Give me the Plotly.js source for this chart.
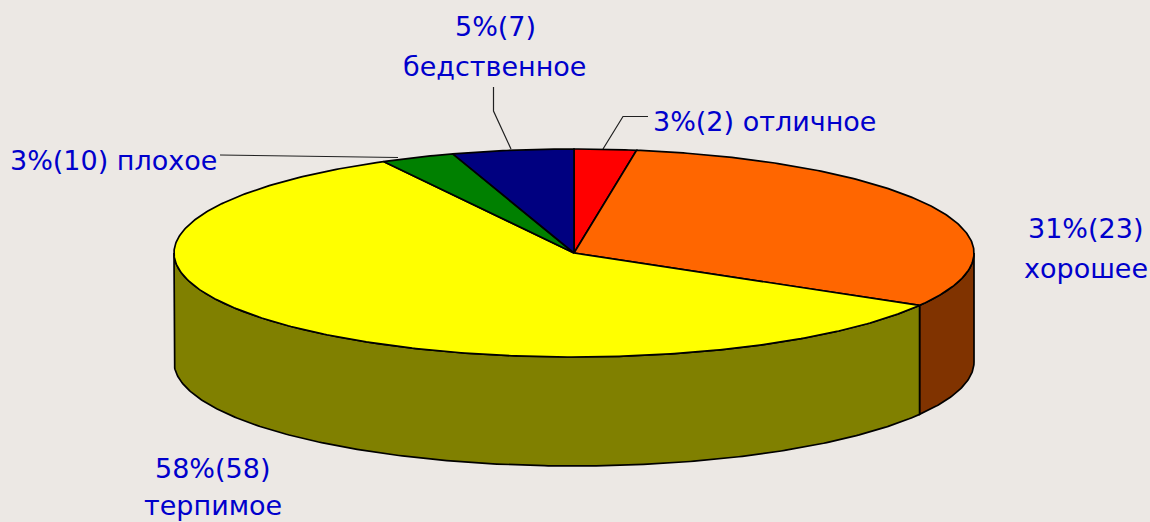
<!DOCTYPE html>
<html><head><meta charset="utf-8">
<script src="https://cdn.plot.ly/plotly-3.0.1.min.js"></script>
<style>html,body{margin:0;padding:0;background:#ece8e4;overflow:hidden}</style>
</head><body><div id="chart" style="width:1150px;height:522px"></div>
<script>
// Data (clockwise from 12 o'clock)
const categories = ['отличное','хорошее','терпимое','плохое','бедственное'];
const shares = [2.5, 30.9, 58.7, 3.0, 4.9];
const percentLabels = ['3%','31%','58%','3%','5%'];
const counts = [2, 23, 58, 10, 7];
const topColors = ['#ff0000','#ff6600','#ffff00','#008000','#000080'];
const sideColors = ['#800000','#803300','#808000','#004000','#000040'];

// Tilted-disc projection, in pixel-sized axis units
const CX = 574, CY = 253, RX = 400, RY = 104, DEPTH = 109;
const px = t => CX + RX * Math.sin(t);
const py = t => CY - RY * Math.cos(t);
const total = shares.reduce((a, b) => a + b, 0);
const arcs = [];
let acc = 0;
shares.forEach(v => { const a0 = acc; acc += v; arcs.push([a0 / total * 2 * Math.PI, acc / total * 2 * Math.PI]); });

function arcPts(a0, a1) {
  const n = Math.max(2, Math.ceil((a1 - a0) / 0.01)), pts = [];
  for (let i = 0; i <= n; i++) pts.push(a0 + (a1 - a0) * i / n);
  return pts;
}
const outline = {color: '#000000', width: 1.7};
const traces = [];
// Leader lines
const leaders = [
  {x: [603, 623, 648], y: [149, 116.5, 116.5]},
  {x: [493.5, 493.5, 511], y: [87, 111, 149]},
  {x: [220, 398], y: [155, 157.5]}
];
leaders.forEach(l => traces.push({type: 'scatter', mode: 'lines', x: l.x, y: l.y, line: {color: '#202020', width: 1.2}, hoverinfo: 'skip'}));
// Visible rim: the front half of the disc, from 90deg to 270deg
arcs.forEach(([a0, a1], i) => {
  const s = Math.max(a0, Math.PI / 2), e = Math.min(a1, 3 * Math.PI / 2);
  if (e <= s) return;
  const p = arcPts(s, e);
  const x = p.map(px).concat(p.slice().reverse().map(px));
  const y = p.map(py).concat(p.slice().reverse().map(t => py(t) + DEPTH));
  x.push(x[0]); y.push(y[0]);
  traces.push({type: 'scatter', mode: 'lines', x, y, fill: 'toself', fillcolor: sideColors[i], line: outline, hoverinfo: 'skip'});
});
// Top faces
arcs.forEach(([a0, a1], i) => {
  const p = arcPts(a0, a1);
  const x = [CX].concat(p.map(px), [CX]);
  const y = [CY].concat(p.map(py), [CY]);
  traces.push({type: 'scatter', mode: 'lines', x, y, fill: 'toself', fillcolor: topColors[i], line: outline, name: categories[i], hoverinfo: 'name'});
});

const txt = i => percentLabels[i] + '(' + counts[i] + ')';
const labelFont = {family: 'DejaVu Sans', size: 27, color: '#0000cc'};
const ann = (x, y, text, anchor) => ({x, y, text, showarrow: false, xanchor: anchor || 'center', yanchor: 'middle', font: labelFont, xref: 'x', yref: 'y'});
const annotations = [
  ann(651, 121, txt(0) + ' ' + categories[0], 'left'),
  ann(1085, 228, txt(1)), ann(1086, 268, categories[1]),
  ann(212.5, 468, txt(2)), ann(212.5, 505, categories[2]),
  ann(8, 160, txt(3) + ' ' + categories[3], 'left'),
  ann(495.5, 26, txt(4)), ann(494, 66, categories[4])
];
const noAxis = {visible: false, fixedrange: true};
Plotly.newPlot('chart', traces, {
  width: 1150, height: 522, margin: {l: 0, r: 0, t: 0, b: 0},
  paper_bgcolor: '#ece8e4', plot_bgcolor: '#ece8e4', showlegend: false,
  xaxis: Object.assign({range: [0, 1150]}, noAxis),
  yaxis: Object.assign({range: [522, 0]}, noAxis),
  annotations
}, {displayModeBar: false});
</script></body></html>
